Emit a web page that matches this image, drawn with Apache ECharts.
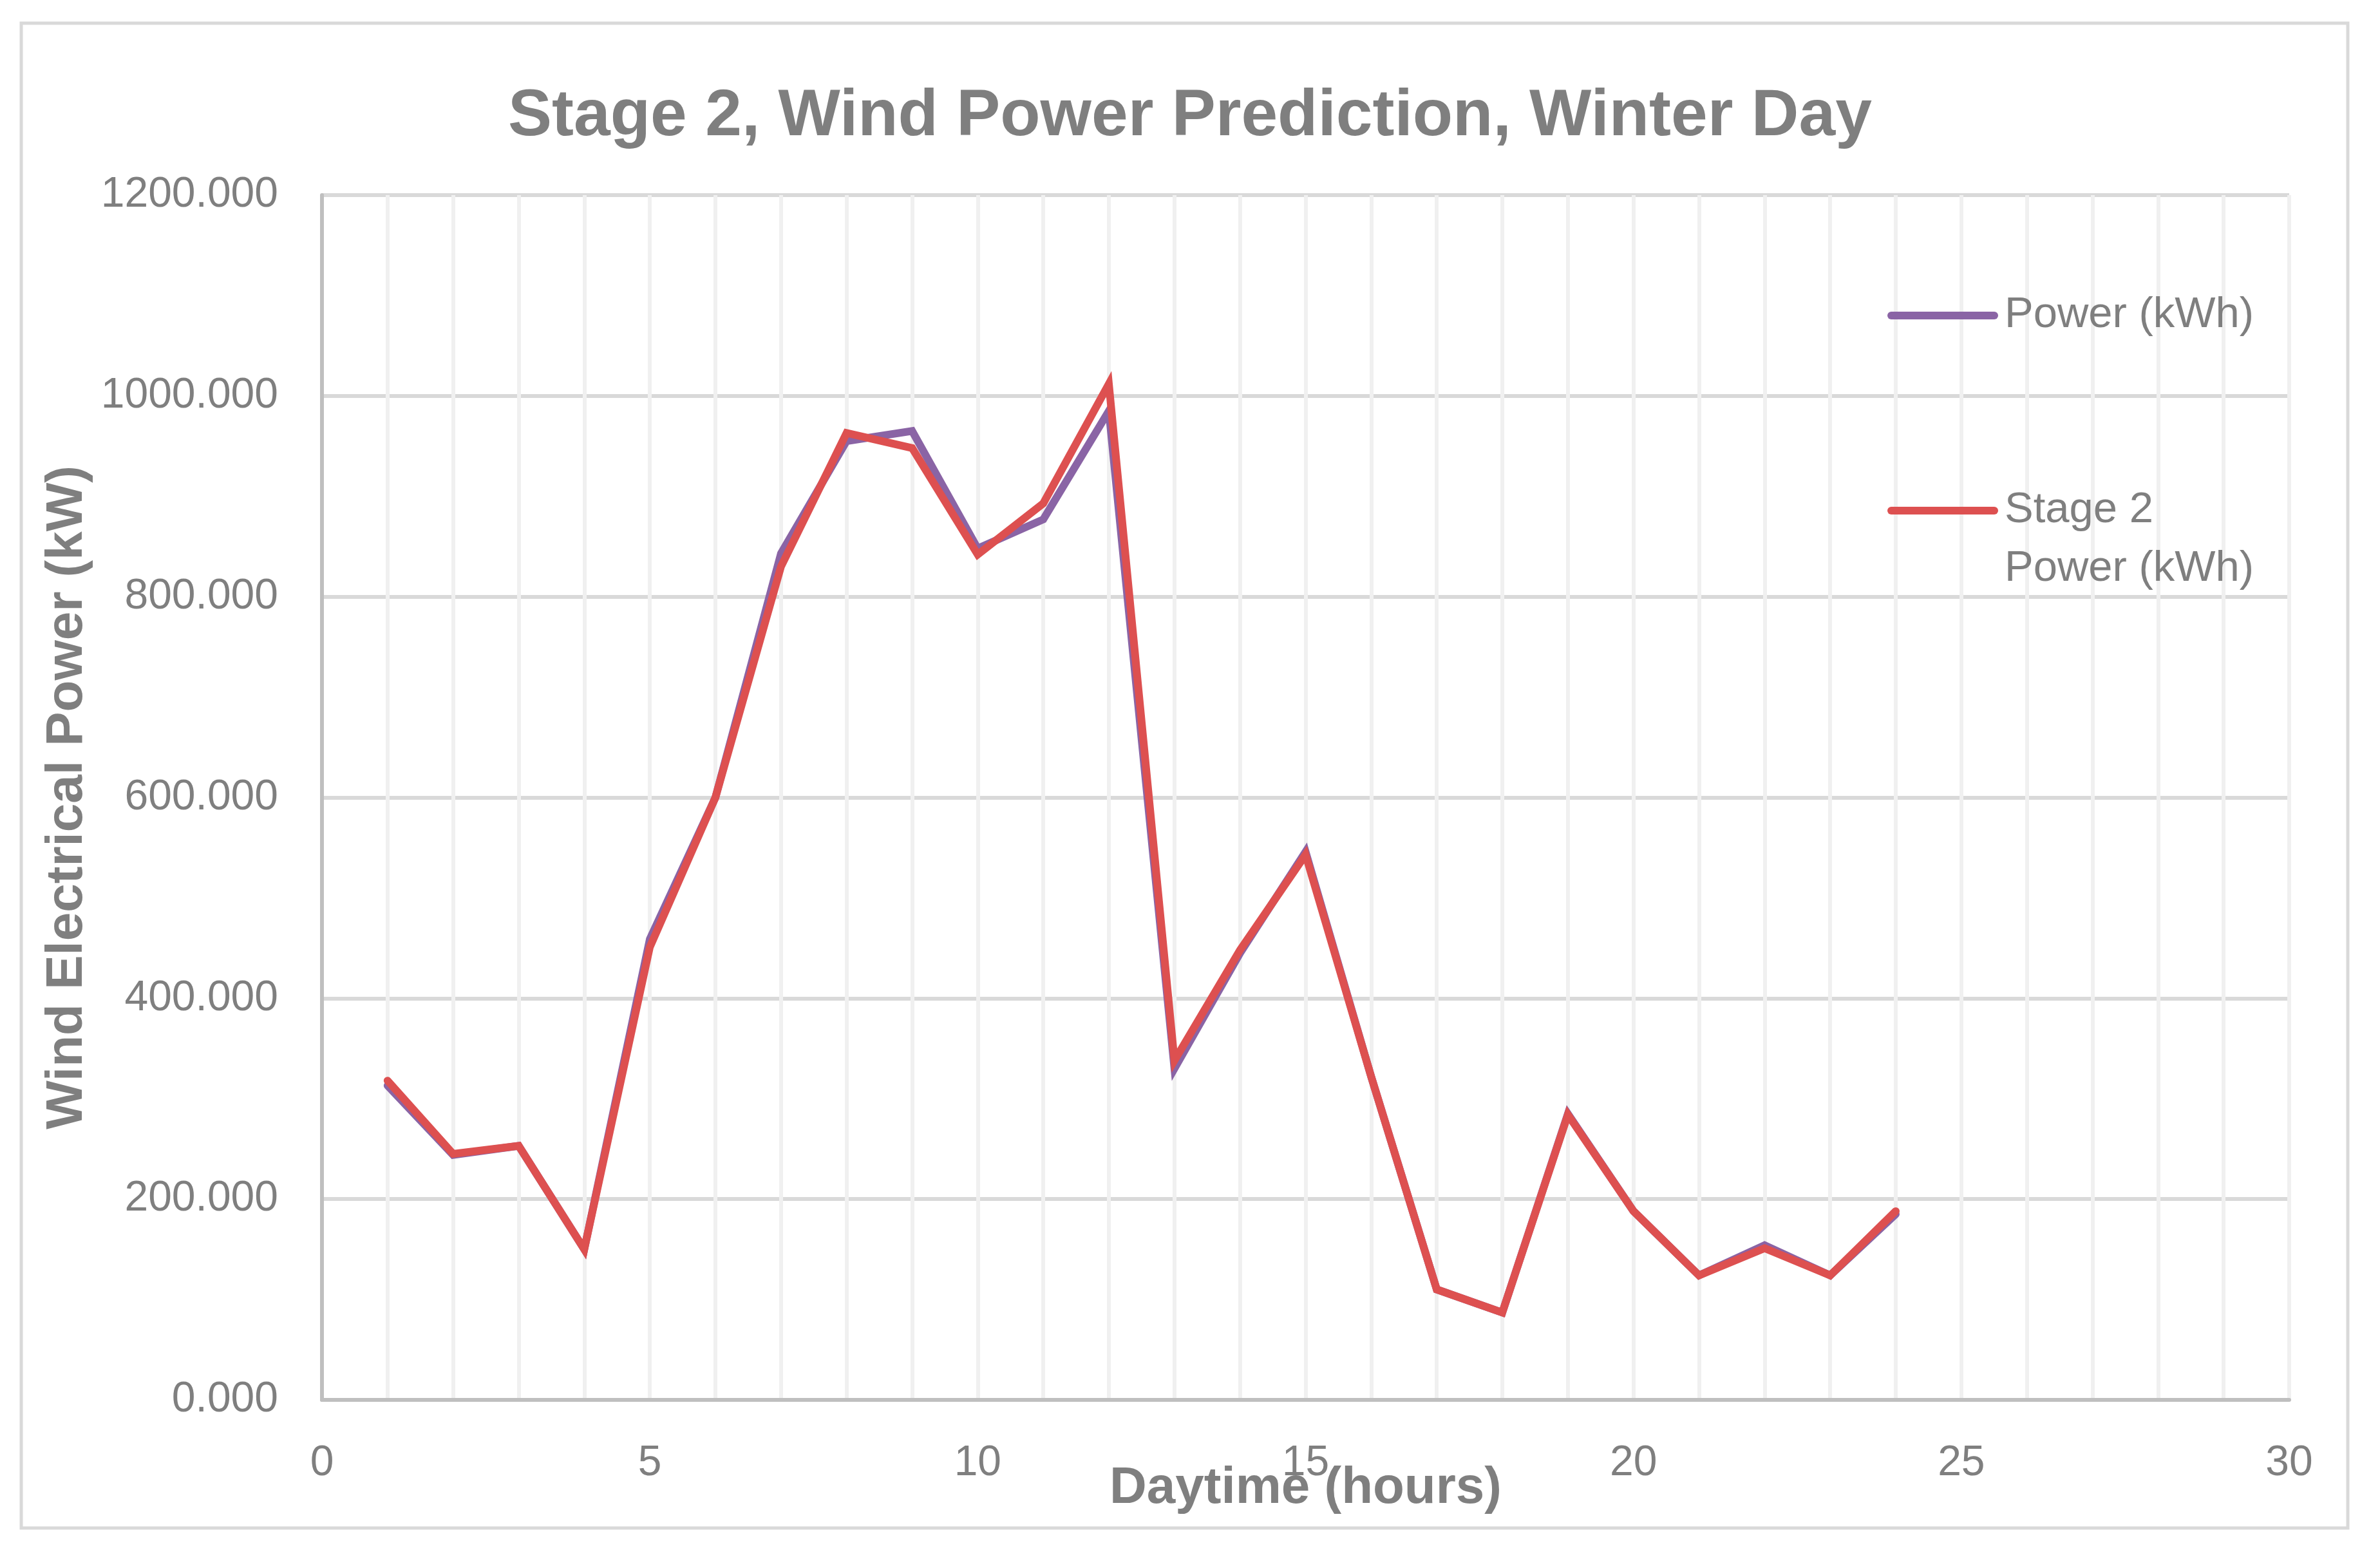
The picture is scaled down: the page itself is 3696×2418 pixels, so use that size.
<!DOCTYPE html>
<html>
<head>
<meta charset="utf-8">
<script src="https://cdn.jsdelivr.net/npm/echarts@6/dist/echarts.min.js"></script>
<style>
html,body{margin:0;padding:0;background:#fff;}
#chart{width:3696px;height:2418px;}
</style>
</head>
<body>
<div id="chart"></div>
<script>
const titleText = 'Stage 2, Wind Power Prediction, Winter Day';
const xAxisTitle = 'Daytime (hours)';
const yAxisTitle = 'Wind Electrical Power (kW)';
const seriesNames = ['Power (kWh)', 'Stage 2 Power (kWh)'];
const hours = [1, 2, 3, 4, 5, 6, 7, 8, 9, 10, 11, 12, 13, 14, 15, 16, 17, 18, 19, 20, 21, 22, 23, 24];
const power = [313, 244, 253, 150, 459, 600, 843, 955, 965, 848, 877, 985, 330, 445, 546, 322, 110, 87, 285, 188, 124, 154, 124, 185];
const stage2Power = [318, 245, 253, 150, 451, 600, 830, 963, 948, 842, 893, 1012, 338, 448, 543, 322, 110, 87, 284, 188, 124, 151, 124, 188];
const xTicks = [0, 5, 10, 15, 20, 25, 30];
const yTicks = [0, 200, 400, 600, 800, 1000, 1200];

const FONT = 'Liberation Sans';
const TEXT = '#7f7f7f';
const PURPLE = '#8a64a5';
const RED = '#dd5050';

const legendCommon = {
  orient: 'vertical',
  left: 2931,
  padding: 0,
  itemWidth: 160,
  itemHeight: 12,
  lineStyle: {width: 12, cap: 'round'},
  itemStyle: {opacity: 0, borderWidth: 0},
  textStyle: {fontFamily: FONT, fontSize: 67, color: TEXT, lineHeight: 91, padding: [0, 0, 0, 11]}
};

const chart = echarts.init(document.getElementById('chart'), null, {renderer: 'canvas'});
chart.setOption({
  animation: false,
  backgroundColor: '#ffffff',
  title: {
    text: titleText,
    left: 'center',
    top: 131,
    padding: 0,
    textStyle: {fontFamily: FONT, fontSize: 102, fontWeight: 'bold', color: TEXT, lineHeight: 102}
  },
  graphic: [{
    type: 'rect',
    shape: {x: 33, y: 36, width: 3613, height: 2337},
    style: {fill: 'none', stroke: '#d9d9d9', lineWidth: 5},
    silent: true,
    z: -10
  }],
  legend: [
    Object.assign({}, legendCommon, {data: [seriesNames[0]], top: 444.5}),
    Object.assign({}, legendCommon, {
      data: [seriesNames[1]],
      top: 656.5,
      formatter: function () { return '\nStage 2\nPower (kWh)'; }
    })
  ],
  grid: {left: 500, right: 141, top: 303, bottom: 244, containLabel: false},
  xAxis: {
    type: 'value',
    min: xTicks[0],
    max: xTicks[xTicks.length - 1],
    interval: 5,
    name: xAxisTitle,
    nameLocation: 'middle',
    nameGap: 98,
    nameMoveOverlap: false,
    nameTextStyle: {fontFamily: FONT, fontSize: 80, fontWeight: 'bold', color: TEXT, lineHeight: 80},
    axisLine: {show: true, onZero: false, lineStyle: {color: '#bfbfbf', width: 6}},
    axisTick: {show: false},
    axisLabel: {fontFamily: FONT, fontSize: 66, color: TEXT, margin: 66, lineHeight: 66},
    splitLine: {show: true, lineStyle: {color: '#f0f0f0', width: 6}},
    minorTick: {show: false, splitNumber: 5},
    minorSplitLine: {show: true, lineStyle: {color: '#f0f0f0', width: 6}}
  },
  yAxis: {
    type: 'value',
    min: yTicks[0],
    max: yTicks[yTicks.length - 1],
    interval: 200,
    name: yAxisTitle,
    nameLocation: 'middle',
    nameRotate: 90,
    nameGap: 355,
    nameMoveOverlap: false,
    nameTextStyle: {fontFamily: FONT, fontSize: 80, fontWeight: 'bold', color: TEXT, lineHeight: 80},
    axisLine: {show: true, lineStyle: {color: '#bfbfbf', width: 6}},
    axisTick: {show: false},
    axisLabel: {fontFamily: FONT, fontSize: 66, color: TEXT, margin: 68, formatter: v => v.toFixed(3)},
    splitLine: {show: true, lineStyle: {color: '#d9d9d9', width: 6}}
  },
  series: [{
    name: seriesNames[0],
    type: 'line',
    symbol: 'none',
    showSymbol: false,
    data: hours.map((h, i) => [h, power[i]]),
    lineStyle: {color: PURPLE, width: 12, cap: 'round', join: 'miter'},
    itemStyle: {color: PURPLE},
    z: 3
  }, {
    name: seriesNames[1],
    type: 'line',
    symbol: 'none',
    showSymbol: false,
    data: hours.map((h, i) => [h, stage2Power[i]]),
    lineStyle: {color: RED, width: 12, cap: 'round', join: 'miter'},
    itemStyle: {color: RED},
    z: 4
  }]
});
</script>
</body>
</html>
